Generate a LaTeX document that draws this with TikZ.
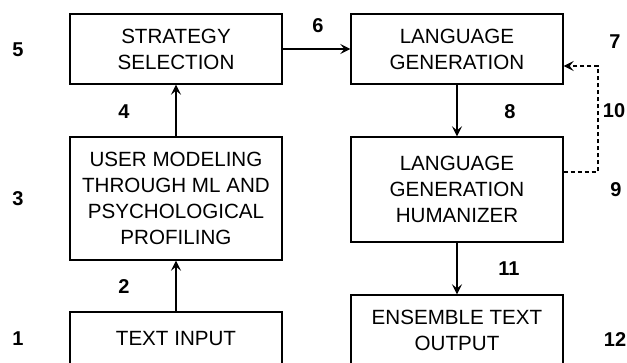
\documentclass[tikz,border=0pt]{standalone}
\usepackage{fontspec}
\setmainfont{Liberation Sans}
\usetikzlibrary{arrows.meta}

\tikzset{
	box/.style={draw, line width=1.4pt, minimum width=212pt, align=center, inner sep=0pt,
		font=\fontsize{20.6}{26}\selectfont},
	num/.style={font=\fontsize{20}{24}\selectfont\bfseries},
	flow/.style={line width=1.4pt, -{Stealth[length=10pt,width=10pt,inset=4pt]}},
	fb/.style={flow, dash pattern=on 4pt off 3pt}
}

\begin{document}
\begin{tikzpicture}[x=1pt,y=-1pt]
		\useasboundingbox (0,0) rectangle (627,362);
		
		\node[box, minimum height=70pt] (sel) at (176,49) {STRATEGY\\SELECTION};
		\node[box, minimum height=123pt] (usr) at (176,198.5) {USER MODELING\\THROUGH ML AND\\PSYCHOLOGICAL\\PROFILING};
		\node[box, minimum height=54pt] (inp) at (176,339) {TEXT INPUT};
		\node[box, minimum height=70pt] (lg) at (457,49) {LANGUAGE\\GENERATION};
		\node[box, minimum height=105pt] (hum) at (457,189.5) {LANGUAGE\\GENERATION\\HUMANIZER};
		\node[box, minimum height=70pt] (out) at (457,330) {ENSEMBLE TEXT\\OUTPUT};
		
		\node[num] (n1) at (18,339) {1};
		\node[num] (n2) at (124,287) {2};
		\node[num] (n3) at (18,199) {3};
		\node[num] (n4) at (124,112) {4};
		\node[num] (n5) at (18,50) {5};
		\node[num] (n6) at (318,26) {6};
		\node[num] (n7) at (615,42) {7};
		\node[num] (n8) at (510,112) {8};
		\node[num] (n9) at (616,190) {9};
		\node[num] (n10) at (614,111) {10};
		\node[num] (n11) at (509,269) {11};
		\node[num] (n12) at (615,340) {12};
		
		\draw[flow] (inp) -- (usr);
		\draw[flow] (usr) -- (sel);
		\draw[flow] (sel) -- (lg);
		\draw[flow] (lg) -- (hum);
		\draw[flow] (hum) -- (out);
		
		\coordinate (fb1) at (598,172);
		\coordinate (fb2) at (598,66);
		\draw[fb] (hum.east |- fb1) -- (fb1) -- (fb2) -- (lg.east |- fb2);
		\end{tikzpicture}
\end{document}
